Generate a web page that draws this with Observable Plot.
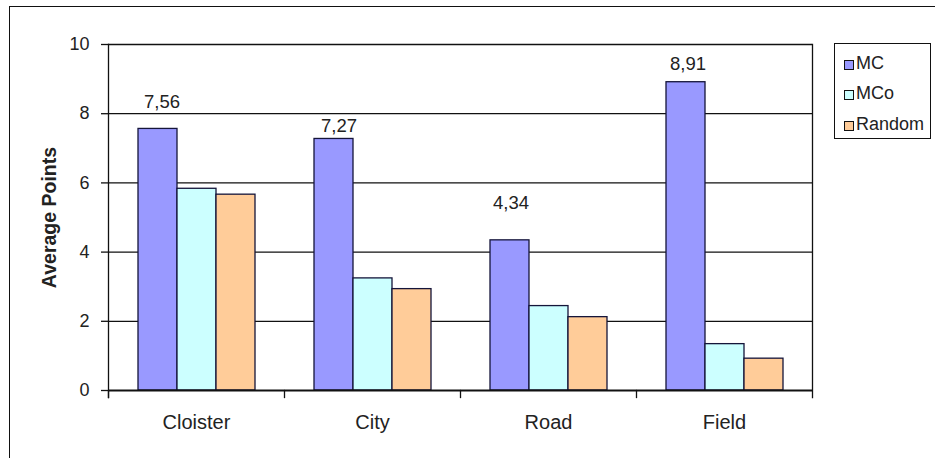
<!DOCTYPE html>
<html>
<head>
<meta charset="utf-8">
<script src="https://cdn.jsdelivr.net/npm/d3@7"></script>
<script src="https://cdn.jsdelivr.net/npm/@observablehq/plot@0.6"></script>
<style>
  html, body { margin: 0; padding: 0; background: #fff; overflow: hidden; }
  #wrap { position: relative; width: 935px; height: 458px; overflow: hidden; font-family: "Liberation Sans", Arial, sans-serif; color: #222; }
  #border { position: absolute; left: 9px; top: 6px; width: 1000px; height: 1000px; border: 1px solid #111; box-sizing: border-box; pointer-events: none; }
  #chart { position: absolute; left: 0; top: 0; }
  #legend { position: absolute; left: 834px; top: 43px; width: 97px; height: 96px; border: 1px solid #111; box-sizing: border-box; background: #fff; }
  .item { position: absolute; left: 9px; height: 30px; display: flex; align-items: center; font-size: 18px; }
  .sw { width: 8px; height: 8px; border: 1px solid #111; margin-right: 2px; margin-top: 3px; }
</style>
</head>
<body>
<div id="wrap">
  <div id="border"></div>
  <div id="chart"></div>
  <div id="legend"></div>
</div>
<script>
const categories = ["Cloister", "City", "Road", "Field"];
const seriesNames = ["MC", "MCo", "Random"];
const mcValues = [7.56, 7.27, 4.34, 8.91];
const mcoValues = [5.83, 3.24, 2.44, 1.34];
const randomValues = [5.66, 2.93, 2.12, 0.92];
const mcLabels = ["7,56", "7,27", "4,34", "8,91"];
const yTicks = [0, 2, 4, 6, 8, 10];
const yLabel = "Average Points";

// styles
const seriesColors = ["#9999FF", "#CCFFFF", "#FFCC99"];
const labelDy = [-27, -13, -37, -18];
const labelDx = [4, 5, 1, 2];

const W = 935, H = 458, mT = 44, mB = 68, mL = 107, mR = 122;
const facetH = H - mT - mB;

const seriesValues = [mcValues, mcoValues, randomValues];
const rows = categories.flatMap((c, i) =>
  seriesNames.map((s, j) => ({category: c, series: s, value: seriesValues[j][i]}))
);

const labelMarks = categories.map((c, i) =>
  Plot.text([{category: c, series: seriesNames[0], value: mcValues[i], label: mcLabels[i]}], {
    fx: "category", x: "series", y: "value", text: "label",
    dy: labelDy[i], dx: labelDx[i], fontSize: 18.5, fill: "#222"
  })
);

const chart = Plot.plot({
  width: W, height: H,
  marginTop: mT, marginBottom: mB, marginLeft: mL, marginRight: mR,
  style: {fontFamily: "'Liberation Sans', Arial, sans-serif", fontSize: "17px", color: "#222", background: "transparent", overflow: "visible"},
  fx: {domain: categories, padding: 0, axis: null},
  x: {domain: seriesNames, paddingInner: 0, paddingOuter: 0.745, axis: null},
  y: {domain: [0, 10], axis: null},
  color: {domain: seriesNames, range: seriesColors},
  marks: [
    Plot.ruleY(yTicks.filter(t => t > 0), {stroke: "#111", strokeWidth: 1.3}),
    Plot.barY(rows, {fx: "category", x: "series", y: "value", fill: "series", stroke: "#15153a", strokeWidth: 1.3}),
    Plot.ruleY([0], {stroke: "#111", strokeWidth: 2}),
    Plot.frame({anchor: "left", insetTop: facetH, insetBottom: -7, stroke: "#111", strokeWidth: 1.3}),
    Plot.frame({anchor: "left", insetBottom: -7, stroke: "#111", strokeWidth: 1.3, facetAnchor: "left"}),
    Plot.frame({anchor: "right", insetBottom: -7, stroke: "#111", strokeWidth: 1.3, facetAnchor: "right"}),
    Plot.axisY({anchor: "left", ticks: yTicks, tickSize: 7, tickPadding: 12, fontSize: 18, label: null, stroke: "#111", strokeWidth: 1.3, fill: "#222", facetAnchor: "left"}),
    Plot.axisFx({anchor: "bottom", tickSize: 0, tickPadding: 24, fontSize: 20, label: null, fill: "#222"}),
    Plot.text([yLabel], {frameAnchor: "left", rotate: -90, dx: -59, textAnchor: "middle", fontWeight: "bold", fontSize: 19.5, fill: "#222", facetAnchor: "left"}),
    ...labelMarks
  ]
});
document.getElementById("chart").appendChild(chart);

const legend = document.getElementById("legend");
const rowCenters = [19, 49, 80];
seriesNames.forEach((s, j) => {
  const item = document.createElement("div");
  item.className = "item";
  item.style.top = (rowCenters[j] - 15) + "px";
  const sw = document.createElement("div");
  sw.className = "sw";
  sw.style.background = seriesColors[j];
  const t = document.createElement("span");
  t.textContent = s;
  item.appendChild(sw);
  item.appendChild(t);
  legend.appendChild(item);
});
</script>
</body>
</html>
